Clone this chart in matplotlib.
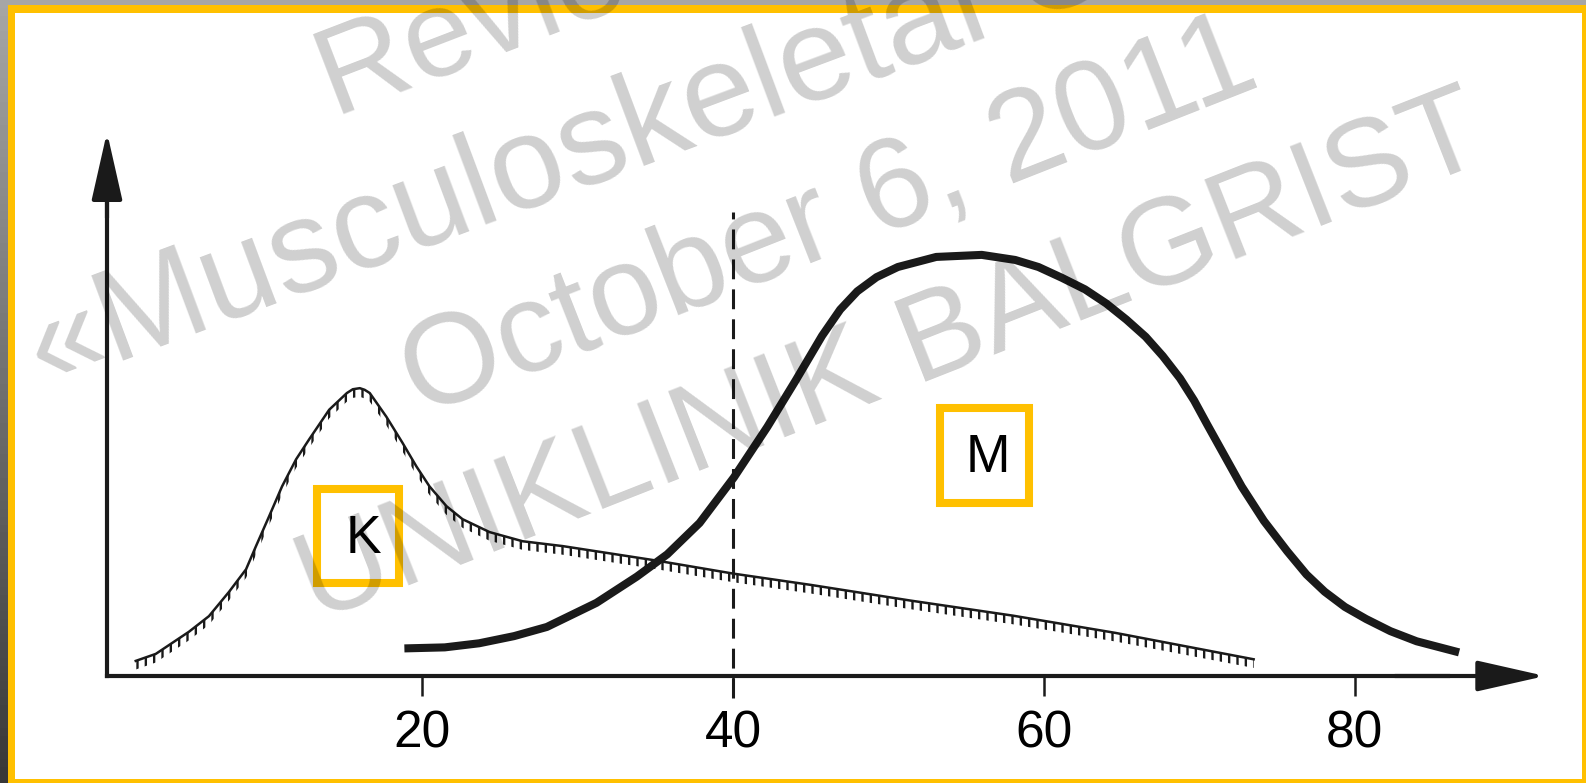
import numpy as np
import matplotlib.pyplot as plt
from matplotlib.patches import Rectangle

# K curve: thin line, hatched underneath
k_x = [1.55, 2.84, 4.97, 6.26, 7.55, 8.65, 9.29, 10.13, 10.97, 11.87, 12.71, 14.0, 15.14, 15.52,
       15.97, 16.28, 16.61, 17.68, 18.71, 19.61, 20.45, 21.55, 22.58, 24.32, 26.45, 29.03, 35.1,
       40.0, 45.0, 51.4, 58.0, 64.6, 73.5]
k_y = [2.8, 4.1, 8.2, 11.1, 15.6, 19.8, 24.1, 29.6, 35.2, 40.2, 43.9, 49.4, 52.5, 53.2,
       53.4, 53.1, 52.5, 48.1, 43.3, 38.9, 35.2, 31.5, 29.1, 26.7, 25.0, 24.1, 21.4,
       19.0, 16.9, 14.0, 11.2, 8.0, 3.1]

# M curve: thick line
m_x = [18.84, 21.44, 23.65, 25.9, 28.01, 31.2, 33.8, 35.76, 37.84, 40.05, 42.2, 44.03,
       45.72, 46.89, 47.99, 49.23, 50.6, 53.07, 56.0, 58.15, 59.65, 61.14, 62.64, 64.01,
       65.31, 66.55, 67.65, 68.76, 69.67, 70.52, 72.73, 74.16, 75.66, 76.9, 78.07, 79.37,
       80.74, 82.3, 83.99, 86.72]
m_y = [5.12, 5.31, 6.07, 7.4, 9.1, 13.57, 18.44, 22.58, 28.39, 36.85, 46.22, 54.86,
       63.11, 67.99, 71.37, 74.0, 75.88, 77.75, 78.13, 77.19, 75.88, 73.9, 71.74, 69.12,
       66.12, 62.93, 59.36, 55.23, 51.1, 46.6, 35.15, 28.77, 23.14, 18.83, 15.64, 12.82,
       10.57, 8.32, 6.44, 4.38]

x_ticks = [20, 40, 60, 80]
cut_x = 40
cut_top = 86
watermark = ['Review Course', '«Musculoskeletal Course»', 'October 6, 2011', 'UNIKLINIK BALGRIST']

W, H = 1586, 783
INK = '#1a1a1a'
GOLD = '#ffc000'

plt.rcParams['font.family'] = ['Liberation Sans', 'DejaVu Sans']
plt.rcParams['hatch.linewidth'] = 1.7


def fx(px):
    return px / W


def fy(py):
    return 1 - py / H


fig = plt.figure(figsize=(W / 100, H / 100), dpi=100, facecolor='white')

ax = fig.add_axes([fx(107), fy(676), fx(1538) - fx(107), fy(137) - fy(676)])
ax.set_xlim(-0.3, 91.8)
ax.set_ylim(0, 100)
ax.patch.set_alpha(0)
for s in ['top', 'right']:
    ax.spines[s].set_visible(False)
for s in ['left', 'bottom']:
    ax.spines[s].set_linewidth(3.0)
    ax.spines[s].set_color(INK)
ax.spines['left'].set_bounds(0, 92)
ax.spines['bottom'].set_bounds(-0.3, 86)
ax.set_yticks([])
ax.set_xticks(x_ticks)
ax.tick_params(axis='x', direction='out', length=14.4, width=1.8, pad=10,
               labelsize=37, color=INK, labelcolor='black')

# arrow heads on both axes
head = dict(arrowstyle='-|>,head_length=4.2,head_width=0.95', mutation_scale=10,
            lw=3.0, color=INK, shrinkA=0, shrinkB=0)
ax.annotate('', xy=(1.005, 0), xytext=(0.9, 0), xycoords='axes fraction', arrowprops=head)
ax.annotate('', xy=(0, 1.009), xytext=(0, 0.85), xycoords='axes fraction', arrowprops=head)

# dashed cut line
ax.plot([cut_x, cut_x], [-4.1, cut_top], color=INK, lw=2.2, dashes=(6.5, 3.3), clip_on=False)

# K curve with hatching below
ax.plot(k_x, k_y, color=INK, lw=1.8, solid_joinstyle='round')
ax.fill_between(k_x, k_y, np.array(k_y) - 1.6, facecolor='none', edgecolor=INK,
                hatch='||', linewidth=0)

# M curve
ax.plot(m_x, m_y, color=INK, lw=5.8, solid_capstyle='butt', solid_joinstyle='round')

# labelled boxes
for (x0, y0, x1, y1), (tx, ty), lab in [((317, 489, 399, 583), (363, 553), 'K'),
                                        ((940, 408, 1029, 503), (988, 472), 'M')]:
    fig.add_artist(Rectangle((fx(x0), fy(y1)), (x1 - x0) / W, (y1 - y0) / H,
                             transform=fig.transFigure, fill=False, ec=GOLD, lw=5.8, zorder=3))
    fig.text(fx(tx), fy(ty), lab, ha='center', va='baseline', fontsize=38.5, color='black', zorder=4)

# frame: grey edge and gold border
g = fig.add_axes([0, 0, fx(7), 1], zorder=2)
g.imshow(np.linspace(0.65, 0.22, 100)[:, None], cmap='gray', vmin=0, vmax=1, aspect='auto')
g.axis('off')
fig.add_artist(Rectangle((0, fy(5)), 1, 5 / H, transform=fig.transFigure, color='#a6a6a6', zorder=2))
for x0, y0, w, h in [(7, 13, W - 7, 8), (7, H, 8, H - 5), (1582, H, 4, H - 5), (7, H, W - 7, 4)]:
    fig.add_artist(Rectangle((fx(x0), fy(y0)), w / W, h / H, transform=fig.transFigure,
                             color=GOLD, lw=0, zorder=2))

# watermark
for (px, py), size, rot, line in zip([(335, 118), (45, 390), (420, 417), (316, 622)],
                                     [90, 95, 92, 90], [21, 20.5, 21.5, 21.5], watermark):
    fig.text(fx(px), fy(py), line, rotation=rot, rotation_mode='anchor', ha='left',
             va='baseline', fontsize=size, color='black', alpha=0.19, zorder=10)

fig.savefig('out.png', dpi=100)
